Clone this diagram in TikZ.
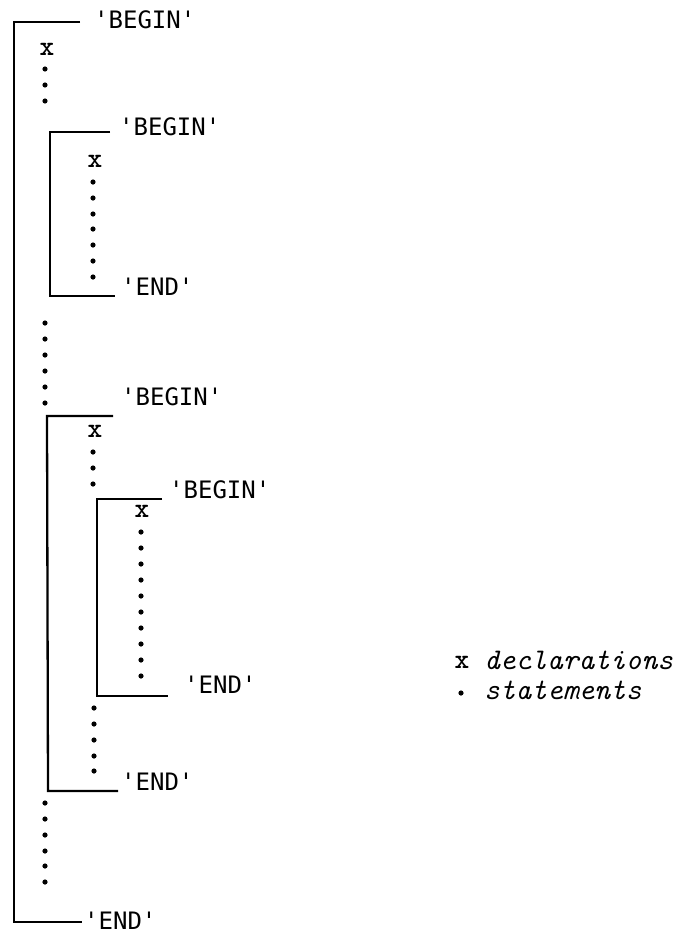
\documentclass[tikz,border=0pt]{standalone}
\usepackage{fontspec}
\newfontfamily\kwfont[Ligatures=TeXOff]{DejaVu Sans Mono}
\begin{document}
\begin{tikzpicture}[x=1pt,y=-1pt,
  keyword/.style={anchor=west,inner sep=0pt,font=\kwfont\fontsize{24}{24}\selectfont},
  decl/.style={inner sep=0pt,font=\ttfamily\bfseries\fontsize{28}{28}\selectfont},
  stmt/.style={circle,fill=black,inner sep=0pt,minimum size=5.2pt},
  legend/.style={anchor=west,inner sep=0pt,font=\ttfamily\itshape\fontsize{30}{30}\selectfont},
  block/.style={line width=2.3pt,line join=miter}]
\useasboundingbox (0,0) rectangle (683,940);

% outermost block
\coordinate (o-tr) at (80,22);
\coordinate (o-tl) at (14,22);
\coordinate (o-bl) at (14,922);
\coordinate (o-br) at (82,922);
\draw[block] (o-tr) -- (o-tl) -- (o-bl) -- (o-br);
\node[keyword] (b1) at (94,20) {'BEGIN'};
\node[keyword] (e1) at (84,921) {'END'};
\node[decl] (x1) at (47,49) {x};
\foreach \y [count=\i] in {69,85,101}
  \node[stmt] (s1a\i) at (45,\y) {};
\foreach \y [count=\i] in {323,339,355,371,387,403}
  \node[stmt] (s1b\i) at (45,\y) {};
\foreach \y [count=\i] in {803,819,835,851,866,882}
  \node[stmt] (s1c\i) at (45,\y) {};

% first inner block
\coordinate (p-tr) at (110,132);
\coordinate (p-tl) at (50,132);
\coordinate (p-bl) at (50,296);
\coordinate (p-br) at (115,296);
\draw[block] (p-tr) -- (p-tl) -- (p-bl) -- (p-br);
\node[keyword] (b2) at (119,127) {'BEGIN'};
\node[keyword] (e2) at (121,287) {'END'};
\node[decl] (x2) at (95,161) {x};
\foreach \y [count=\i] in {182,198,214,229,245,261,277}
  \node[stmt] (s2\i) at (93,\y) {};

% second inner block
\coordinate (q-tr) at (113,416);
\coordinate (q-tl) at (47,416);
\coordinate (q-bl) at (48,791);
\coordinate (q-br) at (118,791);
\draw[block] (q-tr) -- (q-tl) -- (q-bl) -- (q-br);
\node[keyword] (b3) at (121,397) {'BEGIN'};
\node[keyword] (e3) at (121,782) {'END'};
\node[decl] (x3) at (95,431) {x};
\foreach \y [count=\i] in {452,468,484}
  \node[stmt] (s3a\i) at (93,\y) {};
\foreach \y [count=\i] in {708,724,740,756,771}
  \node[stmt] (s3b\i) at (94,\y) {};

% innermost block
\coordinate (r-tr) at (162,499);
\coordinate (r-tl) at (97,499);
\coordinate (r-bl) at (97,696);
\coordinate (r-br) at (168,696);
\draw[block] (r-tr) -- (r-tl) -- (r-bl) -- (r-br);
\node[keyword] (b4) at (169,490) {'BEGIN'};
\node[keyword] (e4) at (184,685) {'END'};
\node[decl] (x4) at (142,511) {x};
\foreach \y [count=\i] in {532,548,564,580,596,612,628,644,660,676}
  \node[stmt] (s4\i) at (141,\y) {};

% legend
\node[decl] (lx) at (462,662) {x};
\node[legend] (ld) at (484,660) {declarations};
\node[stmt] (ls) at (461,693) {};
\node[legend] (lt) at (484,690) {statements};
\end{tikzpicture}
\end{document}
